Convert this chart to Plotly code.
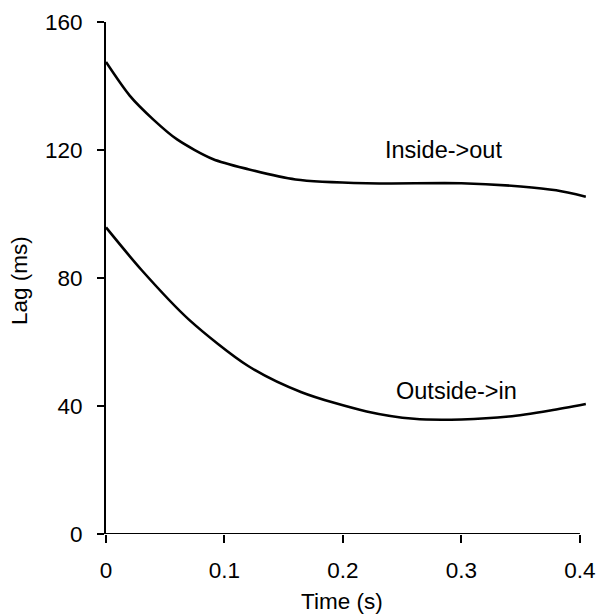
import plotly.graph_objects as go

# Data
time_inside = [0.0, 0.02, 0.04, 0.06, 0.09, 0.12, 0.16, 0.22, 0.30, 0.35, 0.38, 0.405]
lag_inside = [147.5, 137.0, 129.5, 123.3, 117.2, 114.0, 110.8, 109.6, 109.6, 108.6, 107.4, 105.4]

time_outside = [0.0, 0.03, 0.07, 0.12, 0.165, 0.22, 0.26, 0.30, 0.34, 0.375, 0.405]
lag_outside = [95.8, 82.5, 67.0, 52.5, 44.3, 38.3, 36.0, 35.8, 36.7, 38.6, 40.6]

x_ticks = [0, 0.1, 0.2, 0.3, 0.4]
x_tick_labels = ["0", "0.1", "0.2", "0.3", "0.4"]
y_ticks = [0, 40, 80, 120, 160]
y_tick_labels = ["0", "40", "80", "120", "160"]

label_inside = "Inside->out"
label_outside = "Outside->in"

FONT = "Liberation Sans, Arial, Helvetica, sans-serif"

fig = go.Figure()
fig.add_trace(go.Scatter(x=time_inside, y=lag_inside, mode="lines",
                         line=dict(color="black", width=2.6, shape="spline", smoothing=0.8),
                         showlegend=False, hoverinfo="skip"))
fig.add_trace(go.Scatter(x=time_outside, y=lag_outside, mode="lines",
                         line=dict(color="black", width=2.6, shape="spline", smoothing=0.8),
                         showlegend=False, hoverinfo="skip"))

fig.update_layout(
    width=598, height=614,
    margin=dict(l=105.6, r=11.3, t=22, b=80),
    paper_bgcolor="white", plot_bgcolor="white",
    font=dict(family=FONT, color="black", size=22),
    showlegend=False,
)
fig.update_xaxes(range=[0, 0.406], tickvals=x_ticks, ticktext=x_tick_labels,
                 showgrid=False, zeroline=False, showline=False, automargin=False,
                 ticks="outside", ticklen=8, tickwidth=1.5, tickcolor="black",
                 ticklabelstandoff=8, tickfont=dict(size=22.5))
fig.update_yaxes(range=[0, 160], tickvals=y_ticks, ticktext=y_tick_labels,
                 showgrid=False, zeroline=False, showline=True, linecolor="black", linewidth=2,
                 automargin=False,
                 ticks="outside", ticklen=7, tickwidth=1.5, tickcolor="black",
                 ticklabelstandoff=10, tickfont=dict(size=22.5))

# x-axis line only spanning 0..0.4
fig.add_shape(type="line", xref="x", yref="y", x0=0, x1=0.4, y0=0, y1=0,
              line=dict(color="black", width=2))

fig.add_annotation(x=0.285, y=120, xref="x", yref="y", text=label_inside,
                   showarrow=False, font=dict(size=23.5))
fig.add_annotation(x=0.296, y=44.8, xref="x", yref="y", text=label_outside,
                   showarrow=False, font=dict(size=23.5))

fig.add_annotation(x=0.491, y=-0.132, xref="paper", yref="paper", text="Time (s)",
                   showarrow=False, font=dict(size=22.5), xanchor="center", yanchor="middle")
fig.add_annotation(x=-0.181, y=0.496, xref="paper", yref="paper", text="Lag (ms)",
                   textangle=-90, showarrow=False, font=dict(size=22.5),
                   xanchor="center", yanchor="middle")

# remove the browser's default 8px body margin so the figure fills the window exactly
fig.write_html("out.html", config={"displayModeBar": False},
               post_script="document.body.style.margin='0';document.body.style.overflow='hidden';")
